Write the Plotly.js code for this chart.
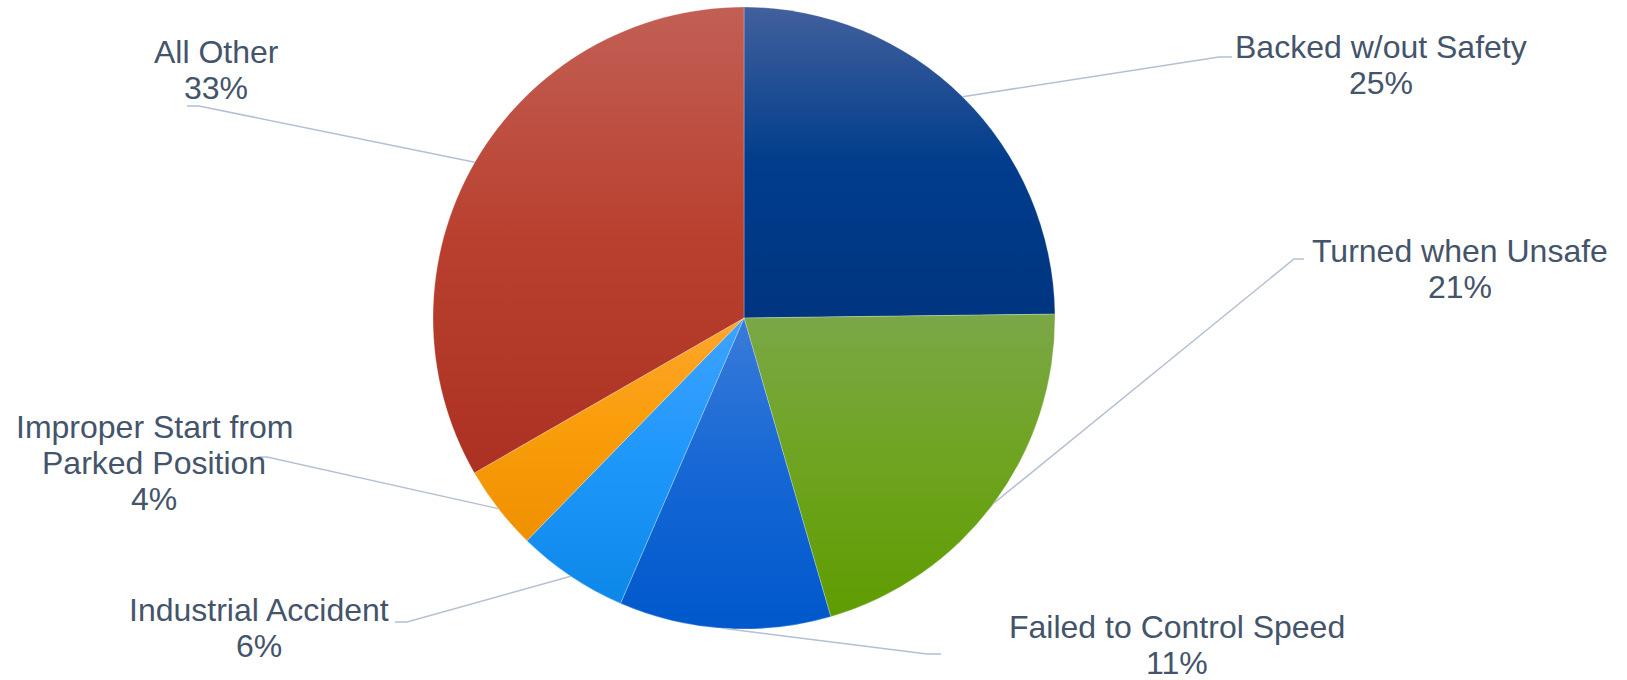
<!DOCTYPE html>
<html>
<head>
<meta charset="utf-8">
<script src="https://cdn.plot.ly/plotly-3.0.1.min.js"></script>
<style>html,body{margin:0;padding:0;background:#fff;}#chart{width:1627px;height:680px;}</style>
</head>
<body>
<div id="chart"></div>
<script>
// ---- data ----
const categories = ["Backed w/out Safety", "Turned when Unsafe", "Failed to Control Speed", "Industrial Accident", "Improper Start from Parked Position", "All Other"];
const values = [24.8, 20.7, 11.0, 5.8, 4.4, 33.3];
const labelLines = [["Backed w/out Safety"], ["Turned when Unsafe"], ["Failed to Control Speed"], ["Industrial Accident"], ["Improper Start from", "Parked Position"], ["All Other"]];
const colors = ["#063d8c", "#6ca11c", "#0b60d0", "#188ff2", "#f69a12", "#b73d2f"];
// gradient stops per slice (top, middle, bottom)
const gradTop = ["#42609c", "#7ba747", "#3a7bd9", "#3ea3ff", "#ffa52c", "#c25f55"];
const gradMid = ["#003d8c", "#6ea41f", "#1567d4", "#1e97fb", "#fa9d0a", "#b9402f"];
const gradBot = ["#003580", "#5f9c00", "#0058cc", "#0c88e8", "#ee9000", "#ac3122"];

// ---- layout (pixels) ----
const W = 1627, H = 680;
const cx = 744, cy = 318, R = 311;
const labelPos = [[1381, 47], [1460, 251], [1177, 627], [259, 610], [154, 427], [216, 52]];
const elbows = [[1219, 57, 1232], [1294, 259, 1304], [927, 654, 941], [407, 622, 395], [267, 457, 258], [199, 106, 187]];
const lineGap = 36;
const textColor = "#44546a";
const leaderColor = "#b4c0d2";

const px = x => x / W;
const py = y => 1 - y / H;

const total = values.reduce((a, b) => a + b, 0);
let cum = 0;
const shapes = [], annotations = [];
values.forEach((v, i) => {
  const mid = (cum + v / 2) / total;
  cum += v;
  const th = 2 * Math.PI * mid;
  const ex = cx + R * Math.sin(th), ey = cy - R * Math.cos(th);
  const [bx, by, hx] = elbows[i];
  shapes.push({
    type: "path", xref: "paper", yref: "paper",
    path: `M${px(ex)},${py(ey)} L${px(bx)},${py(by)} L${px(hx)},${py(by)}`,
    line: {color: leaderColor, width: 1.5}
  });
  const lines = labelLines[i].concat([Math.round(v / total * 100) + "%"]);
  lines.forEach((t, j) => {
    annotations.push({
      x: px(labelPos[i][0]), y: py(labelPos[i][1] + j * lineGap),
      xref: "paper", yref: "paper", xanchor: "center", yanchor: "middle",
      text: t, showarrow: false,
      font: {family: "Liberation Sans, Arial, sans-serif", size: 32, color: textColor}
    });
  });
});

const trace = {
  type: "pie",
  labels: categories,
  values: values,
  sort: false,
  direction: "clockwise",
  rotation: 0,
  textinfo: "none",
  hoverinfo: "label+percent",
  marker: {colors: colors, line: {color: "rgba(255,255,255,0.5)", width: 0.5}},
  domain: {x: [(cx - R) / W, (cx + R) / W], y: [1 - (cy + R) / H, 1 - (cy - R) / H]},
  showlegend: false
};

const layout = {
  width: W, height: H,
  margin: {l: 0, r: 0, t: 0, b: 0},
  paper_bgcolor: "#ffffff",
  showlegend: false,
  shapes: shapes,
  annotations: annotations
};

Plotly.newPlot("chart", [trace], layout, {displayModeBar: false, staticPlot: true}).then(gd => {
  // vertical gradient fill on each slice, like the original chart
  const svg = gd.querySelector("svg.main-svg");
  const NS = "http://www.w3.org/2000/svg";
  let defs = svg.querySelector("defs");
  if (!defs) { defs = document.createElementNS(NS, "defs"); svg.insertBefore(defs, svg.firstChild); }
  categories.forEach((c, i) => {
    const g = document.createElementNS(NS, "linearGradient");
    g.setAttribute("id", "sliceGrad" + i);
    g.setAttribute("x1", "0"); g.setAttribute("y1", "0");
    g.setAttribute("x2", "0"); g.setAttribute("y2", "1");
    [[0, gradTop[i]], [0.5, gradMid[i]], [1, gradBot[i]]].forEach(([o, col]) => {
      const s = document.createElementNS(NS, "stop");
      s.setAttribute("offset", o);
      s.setAttribute("stop-color", col);
      g.appendChild(s);
    });
    defs.appendChild(g);
  });
  gd.querySelectorAll("g.slice").forEach((sl, k) => {
    const d = sl.__data__;
    const idx = d && d.i !== undefined ? d.i : k;
    const p = sl.querySelector("path.surface");
    if (p) p.style.fill = "url(#sliceGrad" + idx + ")";
  });
});
</script>
</body>
</html>
